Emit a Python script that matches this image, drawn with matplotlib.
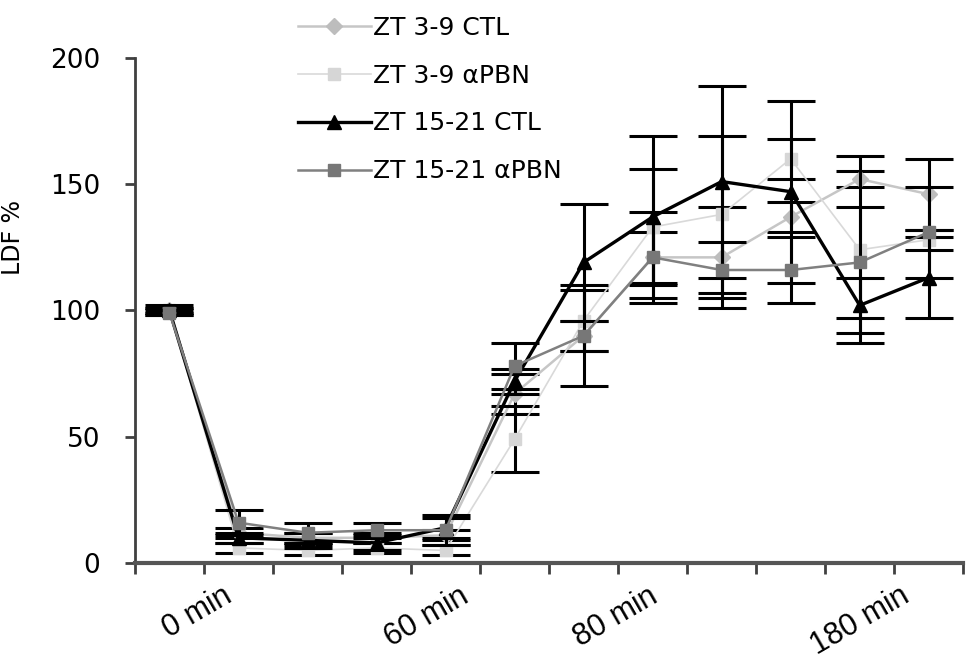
import numpy as np
import matplotlib
matplotlib.use("Agg")
import matplotlib.pyplot as plt

# values (LDF %), 12 time points
ctl_3_9 = [100, 12, 10, 10, 11, 67, 90, 121, 121, 137, 152, 146]
ctl_3_9_err = [1, 2, 2, 2, 2, 8, 6, 10, 20, 6, 3, 14]
pbn_3_9 = [100, 6, 5, 6, 5, 49, 96, 133, 138, 160, 124, 128]
pbn_3_9_err = [1, 2, 2, 2, 2, 13, 12, 23, 31, 8, 37, 4]
ctl_15_21 = [100, 10, 9, 8, 14, 72, 119, 137, 151, 147, 102, 113]
ctl_15_21_err = [2, 2, 3, 3, 4, 5, 23, 32, 38, 36, 11, 16]
pbn_15_21 = [99, 16, 12, 13, 13, 78, 90, 121, 116, 116, 119, 131]
pbn_15_21_err = [1, 5, 4, 3, 6, 9, 20, 18, 11, 13, 22, 18]

tick_labels = ["0 min", "60 min", "80 min", "180 min"]
label_pos = [0.40, 3.73, 6.47, 10.01]

x = np.arange(len(ctl_3_9))

fig = plt.figure(figsize=(9.71, 6.64), dpi=100)
ax = fig.add_axes([0.139, 0.152, 0.853, 0.761])

series = [
    ("ZT 3-9 CTL", ctl_3_9, ctl_3_9_err, "D", "#bdbdbd", "#c6c6c6", 1.8, 8),
    ("ZT 3-9 αPBN", pbn_3_9, pbn_3_9_err, "s", "#d6d6d6", "#d9d9d9", 1.2, 9),
    ("ZT 15-21 CTL", ctl_15_21, ctl_15_21_err, "^", "black", "black", 2.4, 10),
    ("ZT 15-21 αPBN", pbn_15_21, pbn_15_21_err, "s", "#777777", "#808080", 1.8, 9),
]

handles = []
for i, (name, y, err, mk, mcol, lcol, lw, ms) in enumerate(series):
    ax.errorbar(x, y, yerr=err, fmt="none", ecolor="black", elinewidth=2.2,
                capsize=17, capthick=2.2, zorder=2 + i)
    h, = ax.plot(x, y, color=lcol, lw=lw, marker=mk, markersize=ms,
                 markerfacecolor=mcol, markeredgecolor=mcol, label=name,
                 zorder=2.5 + i)
    handles.append(h)

ax.set_xlim(-0.5, len(x) - 0.5)
ax.set_ylim(0, 200)
ax.set_yticks([0, 50, 100, 150, 200])
ax.tick_params(axis="y", labelsize=19, length=7, width=2, color="#404040", pad=18)

ax.set_xticks(np.arange(-0.5, len(x)))
ax.set_xticklabels([])
ax.tick_params(axis="x", which="major", length=8, width=2, color="#404040")
ax.set_xticks(label_pos, minor=True)
ax.set_xticklabels(tick_labels, minor=True, rotation=30, ha="center", va="top",
                   fontsize=22, family="Liberation Sans")
ax.tick_params(axis="x", which="minor", length=0, pad=13)

for s in ["top", "right"]:
    ax.spines[s].set_visible(False)
ax.spines["left"].set_color("#404040")
ax.spines["left"].set_linewidth(2)
ax.spines["bottom"].set_color("#555555")
ax.spines["bottom"].set_linewidth(3)

ax.set_ylabel("LDF %", fontsize=17)
ax.yaxis.set_label_coords(-0.133, 0.645)

fig.legend(handles=handles, loc="upper left", bbox_to_anchor=(298 / 971, 1 - 16 / 664),
           bbox_transform=fig.transFigure, frameon=False, fontsize=18,
           handlelength=2.9, handletextpad=0.1, labelspacing=0.95,
           borderpad=0, borderaxespad=0)

fig.savefig("out.png", dpi=100)
